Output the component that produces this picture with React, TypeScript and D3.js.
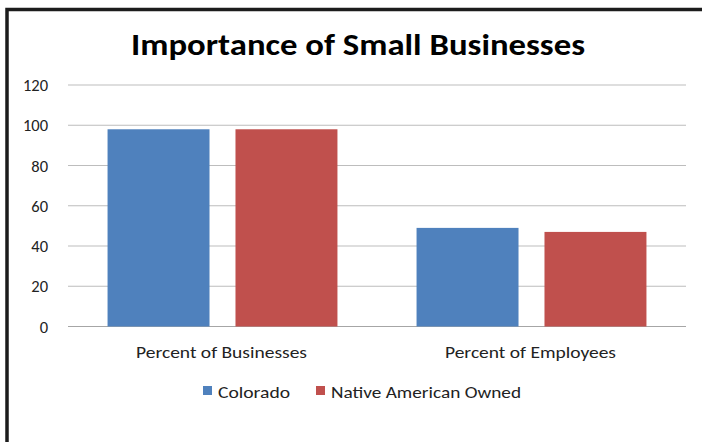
import React from "react";
import * as d3 from "d3";

const categories = ["Percent of Businesses", "Percent of Employees"];
const seriesNames = ["Colorado", "Native American Owned"];
const colorado = [98, 49];
const nativeAmerican = [98, 47];
const yTicks = [0, 20, 40, 60, 80, 100, 120];
const colors = ["#4F81BD", "#C0504D"];

const W = 702;
const H = 442;
const plot = { left: 68, right: 686, top: 85, bottom: 326.5 };
const font = "Calibri, Carlito, Lato, 'Open Sans', sans-serif";

export default function App() {
  const series = [colorado, nativeAmerican];
  const x0 = d3.scaleBand<string>().domain(categories).range([plot.left, plot.right]);
  const bw = x0.bandwidth();
  const x1 = d3.scaleBand<string>().domain(seriesNames).range([bw * 0.128, bw * 0.872]).paddingInner(0.203).paddingOuter(0);
  const y = d3.scaleLinear().domain([0, 120]).range([plot.bottom, plot.top]);

  return (
    <svg width={W} height={H} style={{ position: "absolute", left: 0, top: 0, background: "#fff" }}>
      <rect x={0} y={0} width={W} height={H} fill="#fff" />
      <path d={`M7,${H} L7,9.5 L${W},9.5`} fill="none" stroke="#1c1c1c" strokeWidth={3.5} />
      <text x={358} y={55} textAnchor="middle" fontFamily={font} fontWeight="bold" fontSize={31} fill="#000" textLength={454} lengthAdjust="spacingAndGlyphs">
        Importance of Small Businesses
      </text>
      {yTicks.map((t) => (
        <g key={t}>
          <line x1={plot.left} x2={plot.right} y1={y(t)} y2={y(t)} stroke={t === 0 ? "#a6a6a6" : "#bdbdbd"} strokeWidth={1.2} />
          <text x={48} y={y(t) + 6} textAnchor="end" fontFamily={font} fontSize={16.5} fill="#222">
            {t}
          </text>
        </g>
      ))}
      {categories.map((c, ci) => (
        <g key={c}>
          {seriesNames.map((s, si) => (
            <rect
              key={s}
              x={(x0(c) ?? 0) + (x1(s) ?? 0)}
              y={y(series[si][ci])}
              width={x1.bandwidth()}
              height={plot.bottom - y(series[si][ci])}
              fill={colors[si]}
            />
          ))}
          <text x={(x0(c) ?? 0) + x0.bandwidth() / 2 - 1} y={358} textAnchor="middle" fontFamily={font} fontSize={16} fill="#222" textLength={171} lengthAdjust="spacingAndGlyphs">
            {c}
          </text>
        </g>
      ))}
      <rect x={203} y={386} width={9} height={9} fill={colors[0]} />
      <text x={218} y={398} fontFamily={font} fontSize={16} fill="#222" textLength={72} lengthAdjust="spacingAndGlyphs">
        {seriesNames[0]}
      </text>
      <rect x={316} y={386} width={9} height={9} fill={colors[1]} />
      <text x={331} y={398} fontFamily={font} fontSize={16} fill="#222" textLength={190} lengthAdjust="spacingAndGlyphs">
        {seriesNames[1]}
      </text>
    </svg>
  );
}
